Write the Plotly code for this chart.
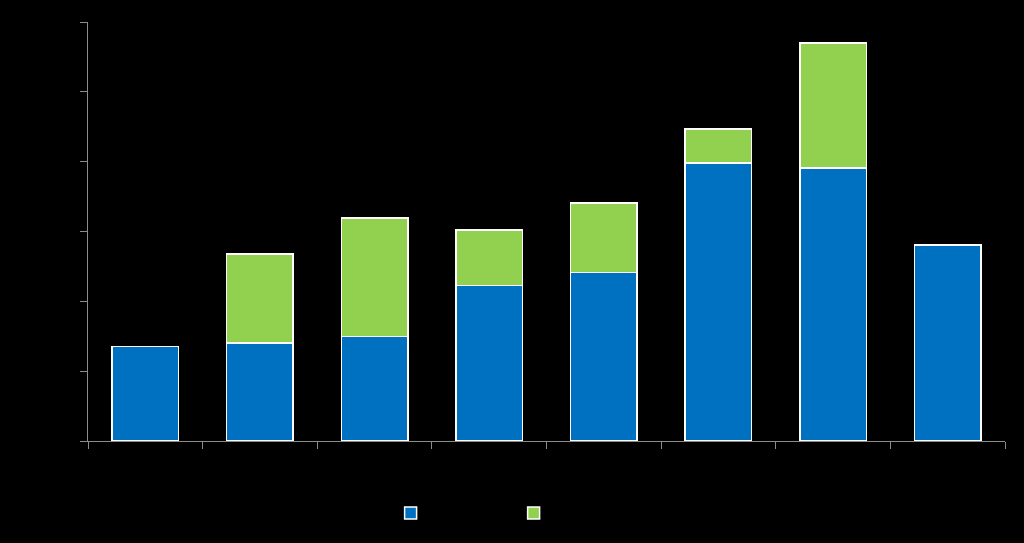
import plotly.graph_objects as go

categories = ["Category 1", "Category 2", "Category 3", "Category 4",
              "Category 5", "Category 6", "Category 7", "Category 8"]
series_a_name = "Series A"
series_b_name = "Series B"
series_a = [13.5, 14.0, 15.0, 22.3, 24.1, 39.8, 39.1, 28.1]
series_b = [None, 12.8, 16.9, 7.9, 10.0, 4.9, 17.9, None]
y_ticks = [0, 10, 20, 30, 40, 50, 60]

fig = go.Figure()
fig.add_trace(go.Bar(x=categories, y=series_a, name=series_a_name,
                     marker=dict(color="#0070C0", line=dict(color="#FFFFFF", width=1.5))))
fig.add_trace(go.Bar(x=categories, y=series_b, name=series_b_name,
                     marker=dict(color="#92D050", line=dict(color="#FFFFFF", width=1.5))))

fig.update_layout(
    barmode="stack",
    bargap=0.42,
    width=1024, height=543,
    margin=dict(l=88, r=19, t=22, b=102),
    paper_bgcolor="#000000", plot_bgcolor="#000000",
    font=dict(family="Liberation Sans", size=12, color="#000000"),
    showlegend=True,
    legend=dict(orientation="h", x=0.33, xanchor="left", y=-0.172, yanchor="middle",
                traceorder="normal",
                entrywidth=78, entrywidthmode="pixels",
                bgcolor="rgba(0,0,0,0)", font=dict(color="#000000")),
    xaxis=dict(showline=True, linecolor="#8C8C8C", linewidth=1,
               ticks="outside", tickcolor="#8C8C8C", ticklen=7, tickson="boundaries",
               showgrid=False, tickfont=dict(color="#000000")),
    yaxis=dict(range=[0, 60], tickvals=y_ticks, showline=True, linecolor="#8C8C8C",
               linewidth=1, ticks="outside", tickcolor="#8C8C8C", ticklen=7,
               showgrid=False, zeroline=False, tickfont=dict(color="#000000")),
)

fig.write_html(
    "out.html",
    config={"displayModeBar": False},
    post_script="document.body.style.margin='0';document.body.style.background='#000';",
)
